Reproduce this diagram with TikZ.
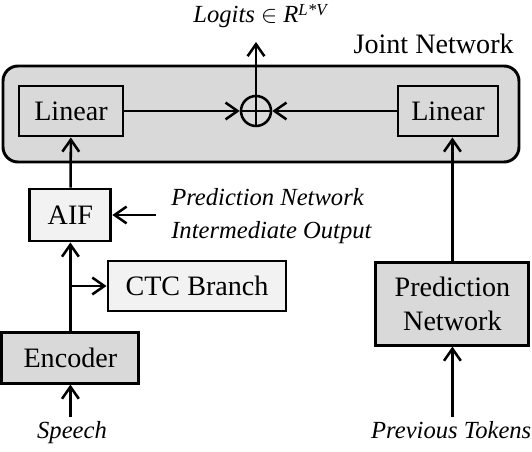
\documentclass[tikz,border=0pt]{standalone}
\usepackage{fontspec}
\setmainfont{Liberation Serif}
\usetikzlibrary{arrows.meta}

\definecolor{blockGray}{RGB}{217,217,217}
\definecolor{blockLight}{RGB}{242,242,242}

\tikzset{
  blk/.style={draw, line width=2.1pt, fill=blockGray, inner sep=0pt,
    font=\fontsize{20}{24}\selectfont},
  lightblk/.style={blk, fill=blockLight},
  arr/.style={line width=1.8pt, -{Straight Barb[length=3mm,width=4.2mm]}},
  lab/.style={inner sep=0pt, font=\fontsize{17.5}{23}\selectfont\itshape},
}

\begin{document}
\begin{tikzpicture}
  \useasboundingbox (0,0) rectangle (13.3,-11.3);
  % Joint network
  \draw[line width=2.1pt, fill=blockGray, rounded corners=0.375cm] (0.075,-1.65) rectangle (12.975,-4.05);
  \node[inner sep=0pt, font=\fontsize{20}{24}\selectfont, anchor=base east] (jointLabel) at (12.85,-1.35) {Joint Network};
  \node[blk, minimum width=2.6cm, minimum height=1.25cm] (linL) at (1.775,-2.775) {Linear};
  \node[blk, minimum width=2.5cm, minimum height=1.25cm] (linR) at (11.2,-2.775) {Linear};
  \node[circle, draw, line width=1.8pt, minimum size=0.75cm, inner sep=0pt] (sum) at (6.4,-2.775) {};
  \draw[line width=1.8pt] (sum.north) -- (sum.south);
  \draw[line width=1.8pt] (sum.west) -- (sum.east);
  \coordinate (logitsEnd) at (6.4,-1.05);
  \node[lab, anchor=base] (logits) at (6.5,-0.57) {Logits $\in$ R\raisebox{0.28em}{\fontsize{12}{12}\selectfont L*V}};
  % Encoder side
  \node[lightblk, minimum width=2.025cm, minimum height=1.3cm] (aif) at (1.76,-5.375) {AIF};
  \node[lightblk, minimum width=4.45cm, minimum height=1.25cm] (ctc) at (4.925,-7.15) {CTC Branch};
  \node[blk, minimum width=3.425cm, minimum height=1.275cm] (enc) at (1.76,-8.94) {Encoder};
  \coordinate (speechIn) at (1.76,-10.425);
  \node[lab, anchor=base] (speech) at (1.8,-10.975) {Speech};
  \coordinate (interIn) at (3.9,-5.375);
  \node[lab, anchor=west, align=left] (inter) at (4.275,-5.4) {Prediction Network\\Intermediate Output};
  % Prediction side
  \node[blk, align=center, minimum width=3.825cm, minimum height=2.075cm] (pred) at (11.31,-7.59) {Prediction\\Network};
  \coordinate (tokensIn) at (11.31,-10.425);
  \node[lab, anchor=base] (tokens) at (11.28,-10.975) {Previous Tokens};
  % Connections
  \draw[arr] (speechIn) -- (enc);
  \draw[arr] (enc) -- (aif);
  \draw[arr] (enc.north |- ctc) -- (ctc);
  \draw[arr] (interIn) -- (aif);
  \draw[arr] (aif) -- (linL);
  \draw[arr] (linL) -- (sum);
  \draw[arr] (tokensIn) -- (pred);
  \draw[arr] (pred.north) -- (pred.north |- linR.south);
  \draw[arr] (linR) -- (sum);
  \draw[arr] (sum) -- (logitsEnd);
\end{tikzpicture}
\end{document}
